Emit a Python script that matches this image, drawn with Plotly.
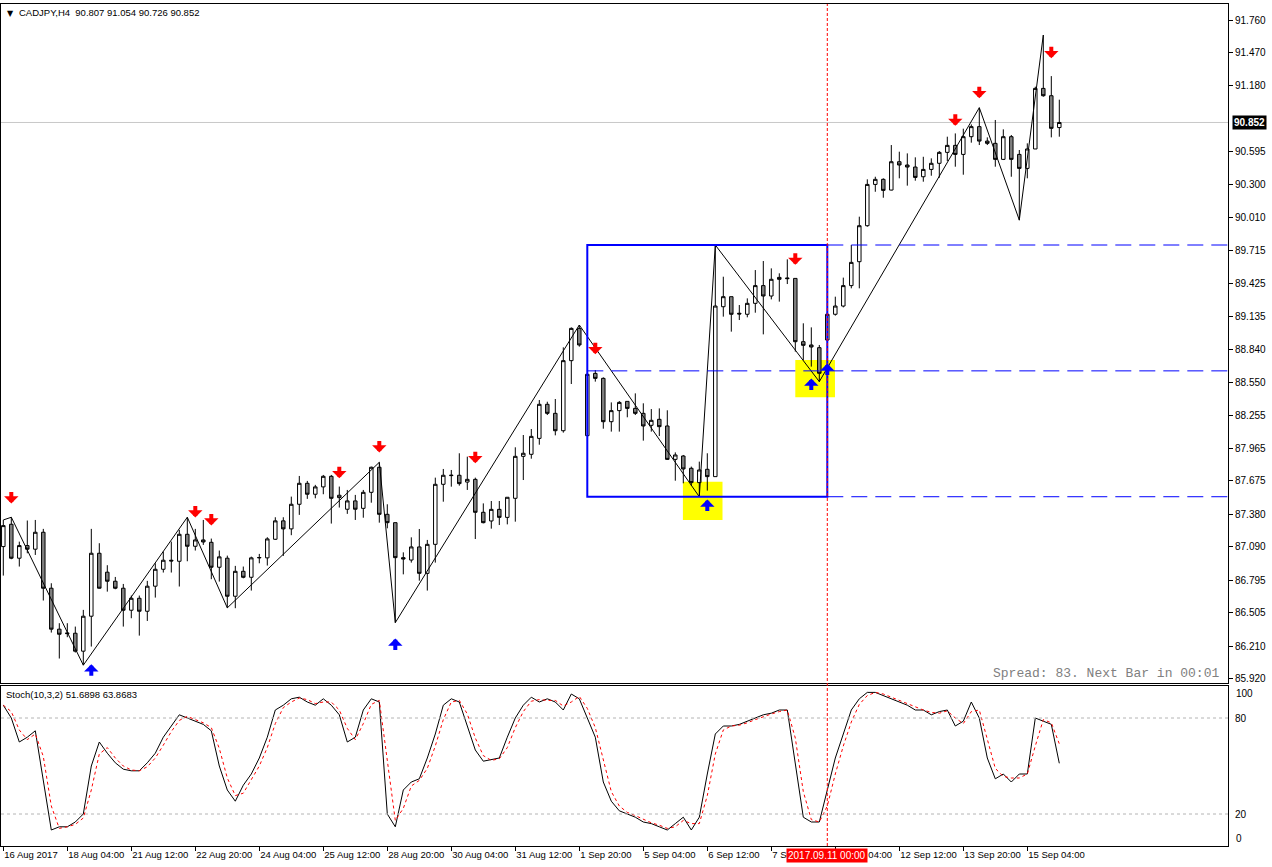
import plotly.graph_objects as go

# ---------------- data ----------------
opens = [87.093, 87.291, 86.990, 87.102, 87.070, 87.220, 86.724, 86.361, 86.328, 86.325,
         86.166, 86.476, 87.034, 86.866, 86.786, 86.724, 86.529, 86.635, 86.520, 86.742,
         86.892, 86.972, 86.963, 87.202, 87.096, 87.152, 87.131, 86.910, 86.990, 86.653,
         86.874, 86.821, 86.993, 86.993, 87.158, 87.321, 87.250, 87.468, 87.654, 87.557,
         87.622, 87.716, 87.527, 87.424, 87.498, 87.432, 87.574, 87.796, 87.379, 87.305,
         86.995, 86.974, 87.090, 86.856, 87.113, 87.645, 87.722, 87.725, 87.665, 87.689,
         87.397, 87.320, 87.423, 87.352, 87.521, 87.893, 87.911, 88.052, 88.354, 88.274,
         88.120, 88.741, 89.027, 88.076, 88.628, 88.584, 88.200, 88.298, 88.380, 88.318,
         88.274, 88.168, 88.221, 88.162, 87.866, 87.896, 87.787, 87.660, 87.778, 87.713,
         89.219, 89.308, 89.161, 89.152, 89.249, 89.406, 89.314, 89.479, 89.474, 89.470,
         88.909, 88.880, 88.856, 88.924, 89.152, 89.225, 89.406, 89.618, 89.937, 90.303,
         90.348, 90.253, 90.504, 90.475, 90.457, 90.371, 90.436, 90.490, 90.587, 90.649,
         90.569, 90.726, 90.815, 90.687, 90.667, 90.525, 90.726, 90.569, 90.445, 90.617,
         91.154, 91.089, 90.807]
highs = [87.329, 87.353, 87.137, 87.324, 87.329, 87.250, 86.768, 86.414, 86.414, 86.384,
         86.532, 87.250, 87.123, 86.928, 86.824, 86.762, 86.659, 86.659, 86.789, 86.945,
         87.049, 87.137, 87.241, 87.353, 87.250, 87.329, 87.164, 87.058, 87.013, 86.922,
         86.916, 87.004, 87.028, 87.176, 87.353, 87.353, 87.536, 87.719, 87.675, 87.640,
         87.728, 87.728, 87.625, 87.595, 87.551, 87.595, 87.802, 87.840, 87.468, 87.305,
         87.042, 87.175, 87.249, 87.152, 87.704, 87.781, 87.772, 87.920, 87.890, 87.704,
         87.476, 87.497, 87.497, 87.530, 87.973, 88.082, 88.135, 88.392, 88.377, 88.401,
         88.859, 89.036, 89.057, 88.630, 88.658, 88.593, 88.371, 88.383, 88.380, 88.451,
         88.363, 88.312, 88.318, 88.301, 87.928, 87.905, 87.802, 87.846, 87.920, 89.766,
         89.485, 89.308, 89.234, 89.293, 89.544, 89.624, 89.559, 89.515, 89.639, 89.470,
         89.072, 89.036, 88.880, 89.170, 89.308, 89.477, 89.766, 90.017, 90.348, 90.371,
         90.357, 90.652, 90.593, 90.578, 90.543, 90.548, 90.534, 90.599, 90.726, 90.755,
         90.797, 90.835, 90.983, 90.720, 90.874, 90.791, 90.741, 90.608, 90.667, 91.169,
         91.627, 91.263, 91.054]
lows = [86.836, 86.981, 86.916, 87.034, 87.019, 86.615, 86.331, 86.101, 86.290, 86.154,
        86.042, 86.207, 86.721, 86.694, 86.715, 86.384, 86.458, 86.304, 86.434, 86.641,
        86.863, 86.863, 86.739, 86.963, 87.058, 87.108, 86.804, 86.783, 86.550, 86.547,
        86.812, 86.703, 86.945, 86.925, 87.152, 87.010, 87.194, 87.374, 87.516, 87.521,
        87.557, 87.297, 87.439, 87.383, 87.329, 87.349, 87.482, 87.305, 87.255, 86.419,
        86.847, 86.951, 86.791, 86.703, 86.951, 87.491, 87.624, 87.633, 87.595, 87.160,
        87.299, 87.252, 87.284, 87.290, 87.314, 87.683, 87.872, 87.996, 88.259, 88.079,
        88.103, 88.534, 88.865, 88.073, 88.555, 88.138, 88.112, 88.112, 88.239, 88.259,
        88.032, 88.112, 88.073, 87.861, 87.677, 87.654, 87.633, 87.535, 87.589, 87.713,
        89.131, 88.998, 89.101, 89.125, 89.166, 88.974, 89.284, 89.264, 89.420, 88.821,
        88.747, 88.688, 88.555, 88.910, 89.140, 89.213, 89.382, 89.382, 89.928, 90.238,
        90.185, 90.250, 90.357, 90.292, 90.336, 90.327, 90.380, 90.362, 90.510, 90.460,
        90.389, 90.673, 90.652, 90.652, 90.460, 90.519, 90.371, 89.985, 90.357, 90.617,
        91.080, 90.720, 90.726]
closes = [87.279, 86.990, 87.102, 87.070, 87.220, 86.724, 86.361, 86.316, 86.322, 86.166,
          86.476, 87.034, 86.724, 86.786, 86.724, 86.529, 86.635, 86.520, 86.742, 86.892,
          86.972, 86.966, 87.202, 87.096, 87.152, 87.134, 86.910, 87.002, 86.653, 86.874,
          86.821, 86.993, 86.996, 87.161, 87.321, 87.250, 87.468, 87.654, 87.557, 87.622,
          87.716, 87.521, 87.548, 87.498, 87.424, 87.574, 87.796, 87.379, 87.305, 86.995,
          86.983, 87.090, 86.856, 87.113, 87.645, 87.725, 87.725, 87.651, 87.689, 87.397,
          87.305, 87.423, 87.352, 87.530, 87.893, 87.920, 88.070, 88.354, 88.274, 88.120,
          88.741, 89.027, 88.880, 88.620, 88.584, 88.200, 88.298, 88.371, 88.318, 88.274,
          88.162, 88.212, 88.156, 87.866, 87.905, 87.781, 87.660, 87.772, 87.713, 89.225,
          89.308, 89.152, 89.155, 89.249, 89.406, 89.314, 89.462, 89.462, 89.468, 88.909,
          88.877, 88.862, 88.629, 89.152, 89.225, 89.406, 89.612, 89.937, 90.303, 90.348,
          90.250, 90.504, 90.475, 90.457, 90.365, 90.436, 90.490, 90.587, 90.649, 90.569,
          90.726, 90.815, 90.687, 90.667, 90.525, 90.726, 90.525, 90.445, 90.617, 91.154,
          91.089, 90.800, 90.852]

# Stochastic (10,3,2) main line
stoch_main = [88, 80, 65, 68, 72, 40, 10, 12, 12, 15,
              20, 50, 65, 58, 52, 48, 47, 47, 52, 58,
              68, 75, 82, 80, 78, 76, 72, 50, 35, 28,
              38, 45, 55, 68, 85, 88, 92, 93, 90, 88,
              92, 88, 82, 65, 68, 85, 92, 90, 20, 12,
              35, 40, 42, 55, 70, 88, 92, 90, 75, 60,
              53, 54, 55, 68, 80, 88, 93, 90, 92, 90,
              85, 95, 92, 80, 68, 40, 28, 22, 20, 18,
              15, 14, 12, 10, 14, 18, 10, 18, 45, 70,
              75, 75, 76, 78, 80, 82, 83, 85, 85, 50,
              18, 15, 15, 35, 55, 70, 85, 92, 96, 96,
              94, 92, 90, 88, 85, 85, 82, 84, 85, 75,
              78, 90, 80, 55, 42, 45, 40, 45, 45, 80,
              78, 76.05, 51.6898]
# Stochastic signal line
stoch_signal = [88, 84, 72.5, 66.5, 70, 56, 25, 11, 12, 13.5,
                17.5, 35, 57.5, 61.5, 55, 50, 47.5, 47, 49.5, 55,
                63, 71.5, 78.5, 81, 79, 77, 74, 61, 42.5, 31.5,
                33, 41.5, 50, 61.5, 76.5, 86.5, 90, 92.5, 91.5, 89,
                90, 90, 85, 73.5, 66.5, 76.5, 88.5, 91, 55, 16,
                23.5, 37.5, 41, 48.5, 62.5, 79, 90, 91, 82.5, 67.5,
                56.5, 53.5, 54.5, 61.5, 74, 84, 90.5, 91.5, 91, 91,
                87.5, 90, 93.5, 86, 74, 54, 34, 25, 21, 19,
                16.5, 14.5, 13, 11, 12, 16, 14, 14, 31.5, 57.5,
                72.5, 75, 75.5, 77, 79, 81, 82.5, 84, 85, 67.5,
                34, 16.5, 15, 25, 45, 62.5, 77.5, 88.5, 94, 96,
                95, 93, 91, 89, 86.5, 85, 83.5, 83, 84.5, 80,
                76.5, 84, 85, 67.5, 48.5, 43.5, 42.5, 42.5, 45, 62.5,
                79, 77, 63.8683]

# ZigZag vertices (bar index, price)
zz_bar = [0, 1, 10, 23, 28, 47, 49, 72, 87, 89, 102, 122, 127, 130]
zz_price = [87.329, 87.353, 86.042, 87.353, 86.550, 87.840, 86.419, 89.057,
            87.535, 89.766, 88.555, 90.983, 89.987, 91.627]

# signal arrows (tip prices)
sell_bar = [1, 24, 26, 42, 47, 59, 74, 99, 119, 122, 131]
sell_tip = [87.475, 87.351, 87.280, 87.699, 87.927, 87.832, 88.798, 89.590,
            90.822, 91.067, 91.421]
buy_bar = [11, 49, 88, 101, 103]
buy_tip = [86.050, 86.279, 87.511, 88.583, 88.716]

# weekly range box
box_start, box_end = 73, 103
box_high, box_low = 89.766, 87.535
box_mid = (box_high + box_low) / 2
# highlight squares (bar from, bar to, price low, price high)
hl_boxes = [(84.95, 89.9, 87.329, 87.668), (99.0, 103.96, 88.416, 88.747)]

cursor_bar = 103
last_price = 90.852

price_ticks = [91.760, 91.470, 91.180, 90.595, 90.300, 90.010, 89.715,
               89.425, 89.135, 88.840, 88.550, 88.255, 87.965, 87.675, 87.380,
               87.090, 86.795, 86.505, 86.210, 85.920]
time_tick_bars = list(range(0, 129, 8))
time_tick_labels = ["16 Aug 2017", "18 Aug 04:00", "21 Aug 12:00", "22 Aug 20:00",
                    "24 Aug 04:00", "25 Aug 12:00", "28 Aug 20:00", "30 Aug 04:00",
                    "31 Aug 12:00", "1 Sep 20:00", "5 Sep 04:00", "6 Sep 12:00",
                    "7 Sep 20:00", "11 Sep 04:00", "12 Sep 12:00", "13 Sep 20:00",
                    "15 Sep 04:00"]

bars = list(range(len(opens)))

# ---------------- figure ----------------
W, H = 1272, 867
ML, MR, MT, MB = 1, 44, 4, 21
PW, PH = W - ML - MR, H - MT - MB
X_RANGE = [-2.3 / 8, (PW - 2.3) / 8]
MAIN_DOM = [(846 - 683) / PH, 1]
STO_DOM = [0, (846 - 686) / PH]
FONT = "Liberation Sans"

fig = go.Figure()
fig.add_trace(go.Candlestick(
    x=bars, open=opens, high=highs, low=lows, close=closes,
    increasing=dict(line=dict(color="black", width=1), fillcolor="white"),
    decreasing=dict(line=dict(color="black", width=1), fillcolor="#808080"),
    whiskerwidth=0, hoverinfo="skip", xaxis="x", yaxis="y"))
fig.add_trace(go.Scatter(x=zz_bar, y=zz_price, mode="lines",
                         line=dict(color="black", width=1), hoverinfo="skip",
                         xaxis="x", yaxis="y"))
fig.add_trace(go.Scatter(x=bars, y=stoch_main, mode="lines",
                         line=dict(color="black", width=1), hoverinfo="skip",
                         xaxis="x2", yaxis="y2"))
fig.add_trace(go.Scatter(x=bars, y=stoch_signal, mode="lines",
                         line=dict(color="red", width=1, dash="3px,3px"),
                         hoverinfo="skip", xaxis="x2", yaxis="y2"))

shapes = []
shapes.append(dict(type="line", xref="paper", x0=0, x1=1, yref="y",
                   y0=last_price, y1=last_price, layer="below",
                   line=dict(color="#C8C8C8", width=1)))
for (b0, b1, p0, p1) in hl_boxes:
    shapes.append(dict(type="rect", xref="x", yref="y", x0=b0, x1=b1, y0=p0, y1=p1,
                       fillcolor="#FFFF00", line=dict(width=0), layer="below"))
shapes.append(dict(type="rect", xref="x", yref="y", x0=box_start, x1=box_end,
                   y0=box_low, y1=box_high, line=dict(color="#0000FF", width=2)))
for lvl, start in [(box_high, box_end), (box_low, box_end), (box_mid, box_start)]:
    shapes.append(dict(type="line", xref="x", yref="y", x0=start, x1=X_RANGE[1],
                       y0=lvl, y1=lvl, line=dict(color="#0000FF", width=1, dash="16px,8px")))
for lvl in [80, 20]:
    shapes.append(dict(type="line", xref="paper", x0=0, x1=1, yref="y2", y0=lvl, y1=lvl,
                       line=dict(color="#B4B4B4", width=1, dash="3px,3px")))
shapes.append(dict(type="line", xref="x", x0=cursor_bar, x1=cursor_bar, yref="paper",
                   y0=0, y1=1, line=dict(color="red", width=1, dash="3px,2px")))

ann = []
for b, p in zip(sell_bar, sell_tip):
    ann.append(dict(x=b, y=p, xref="x", yref="y", text="", showarrow=True,
                    ax=0, ay=-13, arrowhead=1, arrowsize=0.6, arrowwidth=4,
                    arrowcolor="#FF0000", standoff=0))
for b, p in zip(buy_bar, buy_tip):
    ann.append(dict(x=b, y=p, xref="x", yref="y", text="", showarrow=True,
                    ax=0, ay=13, arrowhead=1, arrowsize=0.6, arrowwidth=4,
                    arrowcolor="#0000FF", standoff=0))
ann.append(dict(xref="paper", yref="paper", x=4 / PW, y=1, xanchor="left", yanchor="top",
                yshift=-3, text="▼", showarrow=False,
                font=dict(family="DejaVu Sans", size=8, color="black")))
ann.append(dict(xref="paper", yref="paper", x=16 / PW, y=1, xanchor="left", yanchor="top",
                yshift=-1,
                text="CADJPY,H4\u00a0\u00a090.807 91.054 90.726 90.852",
                showarrow=False, font=dict(family=FONT, size=9.5, color="black")))
ann.append(dict(xref="paper", yref="paper", x=3 / PW, y=STO_DOM[1], xanchor="left",
                yanchor="top", yshift=-1, text="Stoch(10,3,2) 51.6898 63.8683",
                showarrow=False, font=dict(family=FONT, size=9.5, color="black")))
ann.append(dict(xref="paper", yref="paper", x=(1221 - ML) / PW, y=MAIN_DOM[0],
                xanchor="right", yanchor="bottom", yshift=0,
                text="Spread: 83. Next Bar in 00:01", showarrow=False,
                font=dict(family="Liberation Mono", size=13, color="#808080")))
ann.append(dict(xref="paper", yref="y", x=1, y=last_price, xanchor="left", xshift=4,
                text="<b>90.852</b>", showarrow=False, bgcolor="black", borderpad=1,
                font=dict(family=FONT, size=10, color="white")))
ann.append(dict(xref="x", yref="paper", x=cursor_bar, y=0, xanchor="center",
                yanchor="top", yshift=-2, text="2017.09.11 00:00", showarrow=False,
                bgcolor="#FF0000", borderpad=1,
                font=dict(family=FONT, size=10, color="white")))
ann.append(dict(xref="paper", yref="y2", x=1, y=100, xanchor="left", yanchor="top",
                xshift=6, text="100", showarrow=False,
                font=dict(family=FONT, size=10, color="black")))
ann.append(dict(xref="paper", yref="y2", x=1, y=0, xanchor="left", yanchor="bottom",
                xshift=6, text="0", showarrow=False,
                font=dict(family=FONT, size=10, color="black")))

axis_common = dict(showgrid=False, zeroline=False, showline=True, mirror=True,
                   linecolor="black", linewidth=1, automargin=False)
fig.update_layout(
    width=W, height=H, margin=dict(l=ML, r=MR, t=MT, b=MB, autoexpand=False),
    paper_bgcolor="white", plot_bgcolor="white", showlegend=False, boxgap=0.38,
    shapes=shapes, annotations=ann,
    xaxis=dict(domain=[0, 1], anchor="y", range=X_RANGE, showticklabels=False,
               ticks="", rangeslider=dict(visible=False), **axis_common),
    yaxis=dict(domain=MAIN_DOM, anchor="x", range=[85.884, 91.902], side="right",
               tickvals=price_ticks, ticktext=[f"{v:.3f}" for v in price_ticks],
               ticks="outside", ticklen=4, tickcolor="black",
               tickfont=dict(family=FONT, size=10, color="black"), **axis_common),
    xaxis2=dict(domain=[0, 1], anchor="y2", range=X_RANGE, matches="x",
                tickvals=time_tick_bars, ticktext=time_tick_labels, ticks="outside",
                ticklen=4, tickcolor="black", ticklabelposition="outside right",
                tickangle=0, tickfont=dict(family=FONT, size=9.5, color="black"),
                rangeslider=dict(visible=False), **axis_common),
    yaxis2=dict(domain=STO_DOM, anchor="x2", range=[0, 100], side="right",
                tickvals=[80, 20], ticktext=["80", "20"], ticks="outside", ticklen=4,
                tickcolor="rgba(0,0,0,0)",
                tickfont=dict(family=FONT, size=10, color="black"), **axis_common),
)
fig.write_html("out.html")
